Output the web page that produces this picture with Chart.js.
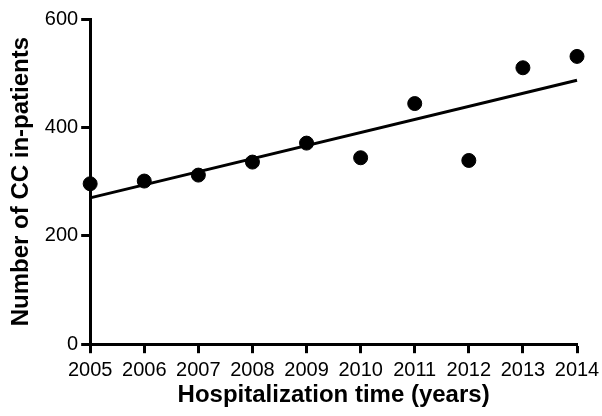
<!DOCTYPE html>
<html><head><meta charset="utf-8">
<script src="https://cdn.jsdelivr.net/npm/chart.js@4/dist/chart.umd.min.js"></script>
<style>html,body{margin:0;padding:0;background:#fff}#wrap{width:602px;height:416px}</style>
</head><body><div id="wrap"><canvas id="c" width="602" height="416"></canvas></div>
<script>
const years = [2005, 2006, 2007, 2008, 2009, 2010, 2011, 2012, 2013, 2014];
const patients = [296, 301, 312, 336, 371, 344, 444, 339, 510, 531];
const fitYears = [2005, 2014];
const fitValues = [270, 487];
const yTicks = [0, 200, 400, 600];

const FONT = "'Liberation Sans', Arial, sans-serif";
new Chart(document.getElementById('c'), {
  type: 'scatter',
  data: {
    datasets: [
      {
        type: 'line',
        data: fitYears.map((x, i) => ({x, y: fitValues[i]})),
        borderColor: '#000', borderWidth: 3, pointRadius: 0, fill: false, clip: false, order: 2
      },
      {
        data: years.map((x, i) => ({x, y: patients[i]})),
        backgroundColor: '#000', borderColor: '#000', pointRadius: 7, pointHoverRadius: 7, clip: false, order: 1
      }
    ]
  },
  options: {
    responsive: false, animation: false, devicePixelRatio: 1,
    layout: {padding: {top: 19, right: 0, left: 7, bottom: 12}},
    plugins: {legend: {display: false}, tooltip: {enabled: false}},
    scales: {
      x: {
        type: 'linear', min: 2005, max: 2014,
        afterFit: s => { s.paddingRight = 25; },
        border: {color: '#000', width: 3},
        grid: {drawOnChartArea: false, drawTicks: true, tickLength: 9, tickWidth: 3, tickColor: '#000'},
        ticks: {stepSize: 1, color: '#000', font: {family: FONT, size: 20}, padding: 5, maxRotation: 0, callback: v => String(v)},
        title: {display: true, text: 'Hospitalization time (years)', color: '#000', font: {family: FONT, size: 24, weight: 'bold', lineHeight: 0.7}, padding: {top: 0, bottom: 0}}
      },
      y: {
        min: 0, max: 600,
        afterBuildTicks: s => { s.ticks = yTicks.map(v => ({value: v})); },
        border: {color: '#000', width: 3},
        grid: {drawOnChartArea: false, drawTicks: true, tickLength: 9, tickWidth: 3, tickColor: '#000'},
        ticks: {color: '#000', font: {family: FONT, size: 20}, padding: 3},
        title: {display: true, text: 'Number of CC in-patients', color: '#000', font: {family: FONT, size: 24, weight: 'bold'}, padding: {top: 0, bottom: 6}}
      }
    }
  }
});
</script></body></html>
